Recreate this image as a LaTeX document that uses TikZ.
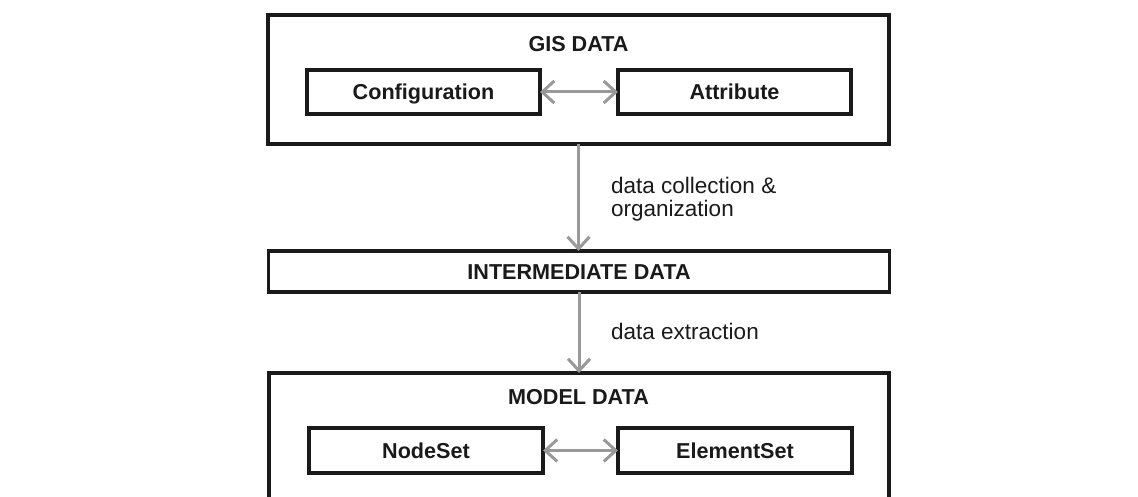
\documentclass[tikz,border=0pt]{standalone}
\usepackage{fontspec}
\setmainfont{Liberation Sans}
\usetikzlibrary{arrows.meta}
\definecolor{boxline}{HTML}{1A1A1A}
\definecolor{arrgray}{HTML}{999999}
\definecolor{txt}{HTML}{1A1A1A}
\begin{document}
\begin{tikzpicture}[x=1pt,y=-1pt,
  frame/.style={draw=boxline, line width=3.2pt, inner sep=0pt, outer sep=0pt, text=txt,
                text height=15.5pt, text depth=0pt,
                font=\fontsize{21.6}{24}\selectfont\bfseries},
  title/.style={inner sep=0pt, text=txt, text height=15.5pt, text depth=0pt,
                font=\fontsize{21.6}{24}\selectfont\bfseries},
  elabel/.style={inner sep=0pt, text=txt, anchor=west, align=left,
                 font=\fontsize{22.5}{23}\selectfont},
  arr/.style={draw=arrgray, line width=3pt, -{Straight Barb[length=12pt,width=22pt]}},
  darr/.style={draw=arrgray, line width=3pt, {Straight Barb[length=12pt,width=22pt]}-{Straight Barb[length=12pt,width=22pt]}}
]
\useasboundingbox (0,0) rectangle (1138,497);
\clip (0,0) rectangle (1138,497);
\fill[white] (0,0) rectangle (1138,497);

% GIS DATA
\node[frame, minimum width=621pt, minimum height=129pt] (gis) at (578.5,79.5) {};
\node[title] (gist) at (578.5,44) {GIS DATA};
\node[frame, minimum width=233pt, minimum height=44pt] (conf) at (423.5,92) {Configuration};
\node[frame, minimum width=233pt, minimum height=44pt] (attr) at (734.5,92) {Attribute};
\draw[darr] (conf) -- (attr);

% INTERMEDIATE DATA
\node[frame, minimum width=621pt, minimum height=41pt] (inter) at (579,271.5) {INTERMEDIATE DATA};
\draw[arr] (gis.south) -- (gis.south |- inter.north);
\node[elabel] (l1) at (611,199) {data collection \&\\organization};

% MODEL DATA
\node[frame, minimum width=620pt, minimum height=160pt] (model) at (579,453) {};
\node[title] (modelt) at (578.5,397) {MODEL DATA};
\node[frame, minimum width=234pt, minimum height=45pt] (nodes) at (426,450.5) {NodeSet};
\node[frame, minimum width=234pt, minimum height=45pt] (elems) at (735,450.5) {ElementSet};
\draw[darr] (nodes) -- (elems);
\draw[arr] (inter.south) -- (inter.south |- model.north);
\node[elabel] (l2) at (611,331) {data extraction};
\end{tikzpicture}
\end{document}
